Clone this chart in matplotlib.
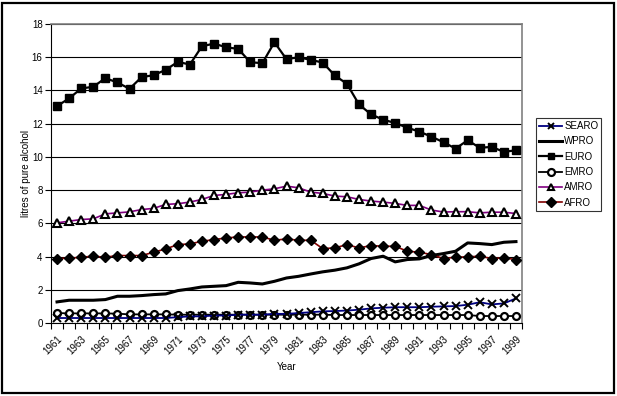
import matplotlib
matplotlib.use("Agg")
import matplotlib.pyplot as plt
import matplotlib.transforms as mtransforms
from matplotlib.patches import Rectangle
from matplotlib.ticker import MultipleLocator, FixedLocator

plt.rcParams['font.family'] = ['Liberation Sans', 'DejaVu Sans']

years = list(range(1961, 2000))

searo = [0.3, 0.3, 0.3, 0.3, 0.3, 0.3, 0.3, 0.3, 0.3, 0.3,
         0.35, 0.4, 0.4, 0.45, 0.45, 0.5, 0.5, 0.5, 0.55, 0.55,
         0.6, 0.65, 0.7, 0.72, 0.75, 0.8, 0.88, 0.92, 0.95, 0.95,
         0.95, 0.98, 1.0, 1.02, 1.1, 1.25, 1.12, 1.18, 1.48]
wpro = [1.27, 1.37, 1.37, 1.37, 1.41, 1.61, 1.61, 1.65, 1.71, 1.75,
        1.95, 2.05, 2.17, 2.21, 2.25, 2.45, 2.41, 2.35, 2.51, 2.71,
        2.81, 2.95, 3.08, 3.18, 3.32, 3.56, 3.88, 4.02, 3.68, 3.82,
        3.86, 4.06, 4.18, 4.32, 4.82, 4.78, 4.72, 4.86, 4.9]
euro = [13.06, 13.52, 14.12, 14.22, 14.74, 14.48, 14.1, 14.8, 14.92, 15.24,
        15.72, 15.56, 16.66, 16.82, 16.6, 16.5, 15.7, 15.64, 16.9, 15.88,
        16.0, 15.84, 15.68, 14.9, 14.4, 13.16, 12.56, 12.24, 12.04, 11.76,
        11.52, 11.22, 10.88, 10.5, 11.0, 10.55, 10.6, 10.3, 10.4]
emro = [0.6, 0.58, 0.58, 0.58, 0.58, 0.56, 0.52, 0.52, 0.52, 0.52,
        0.5, 0.5, 0.5, 0.5, 0.5, 0.5, 0.5, 0.5, 0.5, 0.5,
        0.5, 0.5, 0.5, 0.48, 0.48, 0.48, 0.48, 0.48, 0.48, 0.48,
        0.48, 0.48, 0.48, 0.48, 0.48, 0.42, 0.42, 0.42, 0.42]
amro = [6.03, 6.13, 6.23, 6.27, 6.57, 6.63, 6.69, 6.83, 6.9, 7.14,
        7.18, 7.28, 7.44, 7.68, 7.74, 7.84, 7.88, 8.0, 8.08, 8.24,
        8.14, 7.88, 7.8, 7.64, 7.6, 7.44, 7.34, 7.28, 7.2, 7.08,
        7.08, 6.8, 6.68, 6.7, 6.7, 6.63, 6.67, 6.67, 6.59]
afro = [3.88, 3.9, 3.96, 4.02, 3.96, 4.06, 4.06, 4.06, 4.26, 4.46,
        4.72, 4.76, 4.92, 5.02, 5.12, 5.18, 5.18, 5.18, 4.98, 5.06,
        4.98, 4.98, 4.48, 4.52, 4.72, 4.52, 4.66, 4.62, 4.62, 4.32,
        4.26, 4.12, 3.88, 3.96, 3.98, 4.02, 3.88, 3.92, 3.82]

W, H = 617, 396
fig = plt.figure(figsize=(W / 100, H / 100), dpi=100)
L, R, T, B = 51, 522, 24, 323
ax = fig.add_axes([L / W, 1 - B / H, (R - L) / W, (B - T) / H])

x = list(range(len(years)))

ax.plot(x, searo, color='#000080', lw=1.3, marker='x', ms=5.5, mec='black', mew=1.4, label='SEARO', zorder=5)
ax.plot(x, wpro, color='black', lw=2.2, label='WPRO', zorder=4)
ax.plot(x, euro, color='black', lw=1.6, marker='s', ms=5.5, mfc='black', mec='black', label='EURO', zorder=4)
ax.plot(x, emro, color='black', lw=1.3, marker='o', ms=5, mfc='white', mec='black', mew=1.6, label='EMRO', zorder=4)
ax.plot(x, amro, color='#800080', lw=1.2, marker='^', ms=5.5, mfc='white', mec='black', mew=1.5, label='AMRO', zorder=4)
ax.plot(x, afro, color='#800000', lw=1.2, marker='D', ms=5, mfc='black', mec='black', label='AFRO', zorder=4)

ax.set_xlim(-0.5, len(years) - 0.5)
ax.set_ylim(0, 18)
ax.yaxis.set_major_locator(MultipleLocator(2))
ax.grid(axis='y', color='black', lw=0.8, zorder=1)

ax.set_xticks(x[::2])
ax.set_xticklabels([str(y) for y in years[::2]], rotation=45, ha='right', rotation_mode='anchor', fontsize=7)
shift = mtransforms.ScaledTranslation(-3 / 72, 0, fig.dpi_scale_trans)
for lbl in ax.get_xticklabels():
    lbl.set_transform(lbl.get_transform() + shift)
ax.xaxis.set_minor_locator(FixedLocator([i - 0.5 for i in range(len(years) + 1)]))
ax.tick_params(axis='x', which='major', length=0, pad=8)
ax.tick_params(axis='x', which='minor', length=4, width=0.8, direction='out')
ax.tick_params(axis='y', length=4, width=0.8, labelsize=7, pad=2)

for s in ['top', 'right']:
    ax.spines[s].set_color('#808080')
    ax.spines[s].set_linewidth(1.2)
for s in ['left', 'bottom']:
    ax.spines[s].set_color('black')
    ax.spines[s].set_linewidth(0.8)

ax.set_ylabel('litres of pure alcohol', fontsize=7)
ax.yaxis.set_label_coords(-0.042, 0.5)
ax.set_xlabel('Year', fontsize=7, labelpad=4)

leg = fig.legend(loc='upper left', bbox_to_anchor=(536 / W, 1 - 118 / H), fontsize=7,
                 frameon=True, fancybox=False, edgecolor='black', borderpad=0.3,
                 handlelength=2.4, handletextpad=0.2, labelspacing=0.55, borderaxespad=0)
leg.get_frame().set_linewidth(0.8)
for h in leg.legend_handles:
    h.set_markersize(5)

fig.patches.append(Rectangle((2 / W, 3 / H), (W - 5) / W, (H - 6) / H, transform=fig.transFigure,
                             fill=False, edgecolor='black', lw=1.6))

fig.savefig('out.png', dpi=100)
